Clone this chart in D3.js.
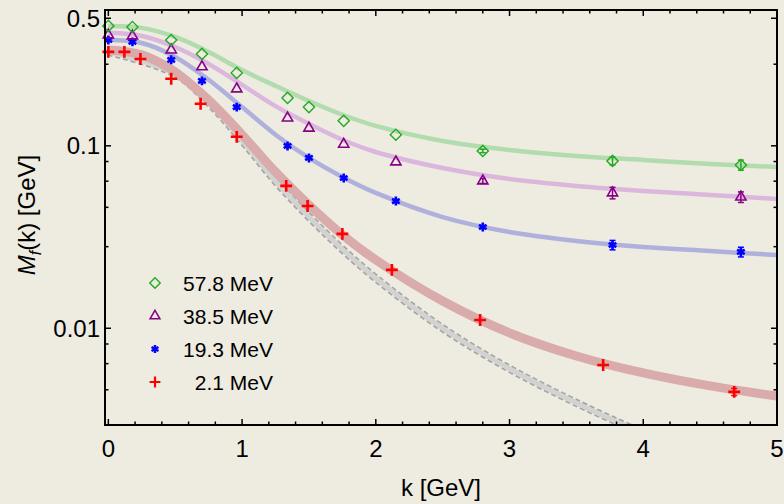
<!DOCTYPE html>
<html>
<head>
<meta charset="utf-8">
<script src="https://cdn.jsdelivr.net/npm/d3@7"></script>
<style>
  html, body { margin: 0; padding: 0; background: #eeebe0; }
  svg { display: block; font-family: "Liberation Sans", Arial, sans-serif; }
</style>
</head>
<body>
<div class="container"></div>
<script>
// series labels (legend order)
const seriesNames = ["57.8 MeV", "38.5 MeV", "19.3 MeV", "2.1 MeV"];
const seriesColors = ["#22aa22", "#880088", "#0000ff", "#ff0000"];
const bandColors = ["#b2dbae", "#dbb7dd", "#b0b0dc", "#d9abab"];

// lattice points, k in GeV, M in GeV
const kGreen = [0.00, 0.18, 0.47, 0.70, 0.96, 1.34, 1.50, 1.76, 2.15, 2.80, 3.77, 4.73];
const mGreen = [0.454, 0.448, 0.380, 0.319, 0.251, 0.183, 0.163, 0.137, 0.115, 0.0937, 0.0826, 0.0785];
const eGreen = [0, 0, 0, 0, 0, 0, 0, 0, 0, 0.002, 0.004, 0.005];

const kPurple = [0.00, 0.18, 0.47, 0.70, 0.96, 1.34, 1.50, 1.76, 2.15, 2.80, 3.77, 4.73];
const mPurple = [0.405, 0.400, 0.335, 0.271, 0.205, 0.142, 0.125, 0.102, 0.0816, 0.0642, 0.0552, 0.0524];
const ePurple = [0, 0, 0, 0, 0, 0, 0, 0, 0, 0.002, 0.004, 0.0035];

const kBlue = [0.00, 0.18, 0.47, 0.70, 0.96, 1.34, 1.50, 1.76, 2.15, 2.80, 3.77, 4.73];
const mBlue = [0.380, 0.371, 0.296, 0.227, 0.163, 0.0998, 0.0858, 0.0666, 0.0498, 0.0359, 0.0286, 0.0262];
const eBlue = [0, 0, 0, 0, 0, 0, 0, 0, 0, 0, 0.0017, 0.0016];

const kRed = [0.00, 0.12, 0.24, 0.47, 0.69, 0.96, 1.33, 1.49, 1.75, 2.12, 2.78, 3.70, 4.68];
const mRed = [0.327, 0.327, 0.299, 0.233, 0.170, 0.112, 0.0603, 0.0468, 0.0329, 0.0209, 0.0111, 0.00629, 0.00448];
const eRed = [0, 0, 0, 0, 0, 0, 0, 0, 0, 0, 0, 0, 0.0002];

// fit curves (bands)
const kBand = [0, 0.25, 0.5, 0.75, 1, 1.25, 1.5, 1.75, 2, 2.5, 3, 3.5, 4, 4.5, 5];
const bandGreen = [0.454, 0.443, 0.395, 0.327, 0.260, 0.213, 0.176, 0.148, 0.1285, 0.1063, 0.0949, 0.0880, 0.0837, 0.0795, 0.0766];
const bandPurple = [0.416, 0.400, 0.348, 0.281, 0.216, 0.165, 0.132, 0.108, 0.0925, 0.0756, 0.0658, 0.0603, 0.0566, 0.0538, 0.0511];
const bandBlue = [0.380, 0.366, 0.307, 0.230, 0.163, 0.115, 0.0858, 0.0675, 0.0552, 0.0407, 0.0337, 0.0301, 0.0279, 0.0265, 0.0252];
const bandRed = [0.335, 0.315, 0.254, 0.178, 0.115, 0.0719, 0.0474, 0.0325, 0.0237, 0.0141, 0.00943, 0.00705, 0.00569, 0.00483, 0.00425];

// chiral-limit band (grey, dashed edges)
const kGrey = [0, 0.5, 0.75, 1, 1.25, 1.5, 1.75, 2, 2.5, 3, 3.5, 4];
const bandGrey = [0.327, 0.248, 0.172, 0.107, 0.064, 0.0408, 0.0271, 0.0188, 0.0100, 0.00600, 0.00390, 0.00265];

// ticks
const xMajor = [0, 1, 2, 3, 4, 5];
const xMinor = [0.2, 0.4, 0.6, 0.8, 1.2, 1.4, 1.6, 1.8, 2.2, 2.4, 2.6, 2.8, 3.2, 3.4, 3.6, 3.8, 4.2, 4.4, 4.6, 4.8];
const yMajor = [0.5, 0.1, 0.01];
const yMajorLabels = ["0.5", "0.1", "0.01"];
const yMinor = [0.28, 0.082, 0.064, 0.046, 0.028, 0.0082, 0.0064, 0.0046];

const W = 784, H = 504;
const margin = {top: 10, right: 7, bottom: 79, left: 105};
const width = W - margin.left - margin.right,
      height = H - margin.top - margin.bottom;

const x = d3.scaleLinear().domain([-0.025, 5]).range([0, width]);
const y = d3.scaleLog().domain([0.00295, 0.555]).range([height, 0]);

const svg = d3.select('.container')
  .append('svg')
  .attr('width', W)
  .attr('height', H);

svg.append('rect').attr('width', W).attr('height', H).attr('fill', '#eeebe0');

const g = svg.append('g')
  .attr('transform', 'translate(' + margin.left + ',' + margin.top + ')');

g.append('clipPath').attr('id', 'plot-clip')
  .append('rect').attr('width', width).attr('height', height);

const plot = g.append('g').attr('clip-path', 'url(#plot-clip)');

const line = d3.line()
  .x(d => x(d[0]))
  .y(d => y(d[1]))
  .curve(d3.curveCatmullRom.alpha(0.5));

// grey band: dashed outer stroke, light inner stroke
const greyData = d3.zip(kGrey, bandGrey);
plot.append('path').datum(greyData)
  .attr('d', line).attr('fill', 'none')
  .attr('stroke', '#a4a4a4').attr('stroke-width', 8)
  .attr('stroke-dasharray', '5,3');
plot.append('path').datum(greyData)
  .attr('d', line).attr('fill', 'none')
  .attr('stroke', '#d2d2d0').attr('stroke-width', 5);

// coloured bands, red drawn first (widest)
const bands = [bandRed, bandBlue, bandPurple, bandGreen];
const bandCols = [bandColors[3], bandColors[2], bandColors[1], bandColors[0]];
const bandWidths = [9, 4.5, 4.5, 4.5];
bands.forEach((b, i) => {
  plot.append('path').datum(d3.zip(kBand, b))
    .attr('d', line).attr('fill', 'none')
    .attr('stroke', bandCols[i]).attr('stroke-width', bandWidths[i])
    .attr('stroke-linecap', 'butt');
});

// marker symbols
const symGreen = d3.symbol().type(d3.symbolDiamond2).size(80);
const symPurple = d3.symbol().type(d3.symbolTriangle2).size(75);
const symBlue = d3.symbol().type(d3.symbolAsterisk).size(55);
const symRed = d3.symbol().type(d3.symbolPlus).size(48);

function drawPoints(ks, ms, es, color, sym, strokeW) {
  const pts = d3.zip(ks, ms, es);
  const pg = g.append('g');
  pts.filter(d => d[2] > 0).forEach(d => {
    const x0 = x(d[0]), y1 = y(d[1] - d[2]), y2 = y(d[1] + d[2]);
    pg.append('line').attr('x1', x0).attr('x2', x0).attr('y1', y1).attr('y2', y2)
      .attr('stroke', color).attr('stroke-width', 1.5);
    [y1, y2].forEach(yy => {
      pg.append('line').attr('x1', x0 - 3).attr('x2', x0 + 3).attr('y1', yy).attr('y2', yy)
        .attr('stroke', color).attr('stroke-width', 1.5);
    });
  });
  pg.selectAll('path.pt')
    .data(pts)
    .enter().append('path')
      .attr('class', 'pt')
      .attr('transform', d => 'translate(' + x(d[0]) + ',' + y(d[1]) + ')')
      .attr('d', sym)
      .attr('fill', 'none')
      .attr('stroke', color)
      .attr('stroke-width', strokeW);
}

drawPoints(kRed, mRed, eRed, seriesColors[3], symRed, 2.6);
drawPoints(kBlue, mBlue, eBlue, seriesColors[2], symBlue, 2.6);
drawPoints(kPurple, mPurple, ePurple, seriesColors[1], symPurple, 1.6);
drawPoints(kGreen, mGreen, eGreen, seriesColors[0], symGreen, 1.4);

// frame and ticks
g.append('rect')
  .attr('width', width).attr('height', height)
  .attr('fill', 'none').attr('stroke', '#000').attr('stroke-width', 2);

const ticks = g.append('g').attr('stroke', '#000').attr('stroke-width', 1.5);
xMajor.forEach(v => {
  ticks.append('line').attr('x1', x(v)).attr('x2', x(v)).attr('y1', height).attr('y2', height - 6);
  ticks.append('line').attr('x1', x(v)).attr('x2', x(v)).attr('y1', 0).attr('y2', 6);
});
xMinor.forEach(v => {
  ticks.append('line').attr('x1', x(v)).attr('x2', x(v)).attr('y1', height).attr('y2', height - 3.5);
  ticks.append('line').attr('x1', x(v)).attr('x2', x(v)).attr('y1', 0).attr('y2', 3.5);
});
yMajor.forEach(v => {
  ticks.append('line').attr('x1', 0).attr('x2', 6).attr('y1', y(v)).attr('y2', y(v));
  ticks.append('line').attr('x1', width).attr('x2', width - 6).attr('y1', y(v)).attr('y2', y(v));
});
yMinor.forEach(v => {
  ticks.append('line').attr('x1', 0).attr('x2', 3.5).attr('y1', y(v)).attr('y2', y(v));
  ticks.append('line').attr('x1', width).attr('x2', width - 3.5).attr('y1', y(v)).attr('y2', y(v));
});

// tick labels
g.selectAll('text.xlab')
  .data(xMajor)
  .enter().append('text')
    .attr('class', 'xlab')
    .attr('x', d => x(d))
    .attr('y', height + 32)
    .attr('text-anchor', 'middle')
    .style('font-size', '24px')
    .text(d => d);

g.selectAll('text.ylab')
  .data(yMajor)
  .enter().append('text')
    .attr('class', 'ylab')
    .attr('x', -5)
    .attr('y', d => y(d))
    .attr('dy', '0.36em')
    .attr('text-anchor', 'end')
    .style('font-size', '24px')
    .text((d, i) => yMajorLabels[i]);

// axis titles
svg.append('text')
  .attr('x', 441).attr('y', 496)
  .attr('text-anchor', 'middle')
  .style('font-size', '24px')
  .text('k [GeV]');

const yt = svg.append('text')
  .attr('transform', 'translate(35,215) rotate(-90)')
  .attr('text-anchor', 'middle')
  .style('font-size', '24px');
yt.append('tspan').style('font-style', 'italic').text('M');
yt.append('tspan').attr('dy', 6).style('font-size', '16px').style('font-style', 'italic').text('f');
yt.append('tspan').attr('dy', -6).text('(k) [GeV]');

// legend
const legSyms = [
  d3.symbol().type(d3.symbolDiamond2).size(70),
  d3.symbol().type(d3.symbolTriangle2).size(70),
  d3.symbol().type(d3.symbolAsterisk).size(45),
  d3.symbol().type(d3.symbolPlus).size(40)
];
const legWidths = [1.4, 1.5, 2.4, 2.2];
const legY = [283, 316, 349, 382];
seriesNames.forEach((name, i) => {
  svg.append('path')
    .attr('transform', 'translate(155,' + legY[i] + ')')
    .attr('d', legSyms[i])
    .attr('fill', 'none')
    .attr('stroke', seriesColors[i])
    .attr('stroke-width', legWidths[i]);
  svg.append('text')
    .attr('x', 273).attr('y', legY[i])
    .attr('dy', '0.36em')
    .attr('text-anchor', 'end')
    .style('font-size', '21px')
    .text(name);
});
</script>
</body>
</html>
